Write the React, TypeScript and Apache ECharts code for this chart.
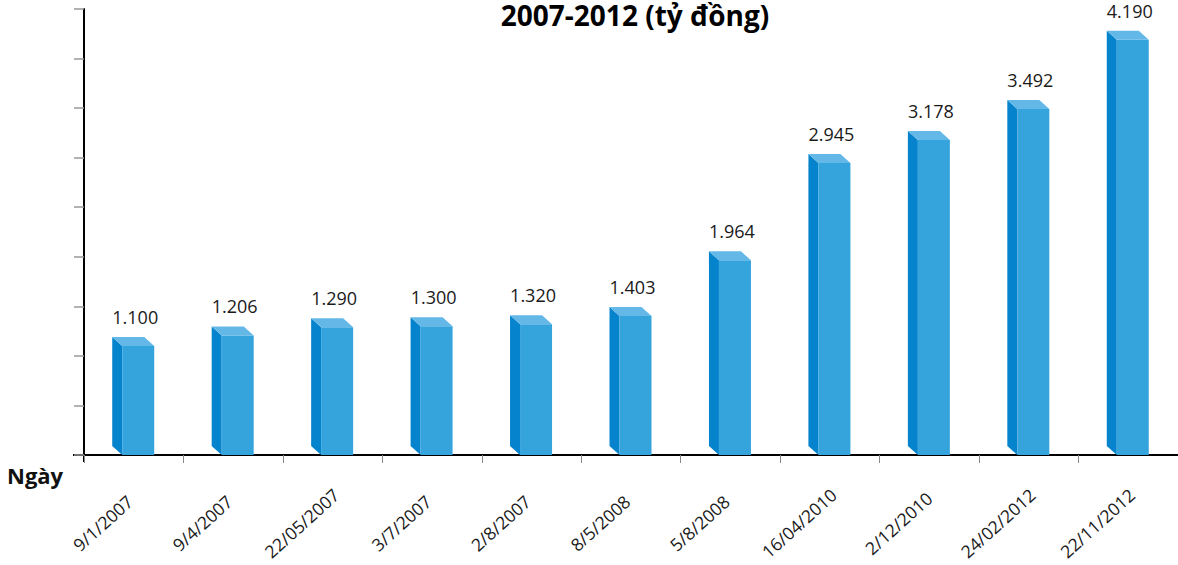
import React, { useEffect, useRef } from "react";
import * as echarts from "echarts";

const categories = [
  "9/1/2007", "9/4/2007", "22/05/2007", "3/7/2007", "2/8/2007", "8/5/2008",
  "5/8/2008", "16/04/2010", "2/12/2010", "24/02/2012", "22/11/2012",
];
const values = [1100, 1206, 1290, 1300, 1320, 1403, 1964, 2945, 3178, 3492, 4190];
const valueLabels = ["1.100", "1.206", "1.290", "1.300", "1.320", "1.403", "1.964", "2.945", "3.178", "3.492", "4.190"];
const titleText = "2007-2012 (tỷ đồng)";
const xAxisName = "Ngày";

const FONT = "'Open Sans', 'Noto Sans', sans-serif";

export default function App() {
  const ref = useRef<HTMLDivElement>(null);
  useEffect(() => {
    const chart = echarts.init(ref.current!, null, { renderer: "svg" });
    chart.setOption({
      animation: false,
      backgroundColor: "#ffffff",
      grid: { left: 84, right: 0, top: 9, bottom: 110, containLabel: false },
      graphic: [
        {
          type: "text",
          x: 635,
          y: 1,
          style: {
            text: titleText,
            font: `bold 28px ${FONT}`,
            fill: "#000",
            align: "center",
            verticalAlign: "top",
          },
          z: 10,
        },
        {
          type: "text",
          left: 7,
          top: 464,
          style: { text: xAxisName, font: `bold 22px ${FONT}`, fill: "#111" },
        },
        {
          type: "line",
          shape: { x1: 73, y1: 455, x2: 85, y2: 455 },
          style: { stroke: "#000", lineWidth: 2 },
        },
        {
          type: "line",
          shape: { x1: 84, y1: 454, x2: 84, y2: 462 },
          style: { stroke: "#000", lineWidth: 2 },
        },
      ],
      xAxis: {
        type: "category",
        data: categories,
        axisLine: { lineStyle: { color: "#000", width: 2 } },
        axisTick: { show: true, alignWithLabel: false, length: 8, lineStyle: { color: "#888", width: 1 } },
        axisLabel: { show: false },
      },
      yAxis: {
        type: "value",
        min: 0,
        max: 4500,
        interval: 500,
        axisLine: { show: true, lineStyle: { color: "#000", width: 2 } },
        axisTick: { show: true, length: 10, lineStyle: { color: "#999", width: 1.5 } },
        axisLabel: { show: false },
        splitLine: { show: false },
      },
      series: [
        {
          type: "custom",
          data: values.map((v, i) => [i, v]),
          clip: false,
          renderItem: (params: any, api: any) => {
            const idx = api.value(0);
            const val = api.value(1);
            const top = api.coord([idx, val]);
            const base = api.coord([idx, 0]);
            const cx = top[0];
            const ty = top[1];
            const by = base[1];
            const dx = 10;
            const dy = 9;
            const fl = cx - 11.5;
            const fw = 32;
            return {
              type: "group",
              children: [
                {
                  type: "polygon",
                  shape: {
                    points: [
                      [fl - dx, ty - dy],
                      [fl, ty],
                      [fl, by],
                      [fl - dx, by - dy],
                    ],
                  },
                  style: { fill: "#0683cd" },
                },
                {
                  type: "rect",
                  shape: { x: fl, y: ty, width: fw, height: by - ty },
                  style: { fill: "#35a3dc" },
                },
                {
                  type: "polygon",
                  shape: {
                    points: [
                      [fl - dx, ty - dy],
                      [fl - dx + fw, ty - dy],
                      [fl + fw, ty],
                      [fl, ty],
                    ],
                  },
                  style: { fill: "#63b8e8" },
                },
                {
                  type: "text",
                  x: cx + 1.5,
                  y: ty - dy - 20,
                  style: {
                    text: valueLabels[idx],
                    font: `18px ${FONT}`,
                    fill: "#1a1a1a",
                    align: "center",
                    verticalAlign: "middle",
                  },
                },
                {
                  type: "text",
                  x: cx - 31,
                  y: base[1] + 68,
                  rotation: (42 * Math.PI) / 180,
                  style: {
                    text: categories[idx],
                    font: `17.5px ${FONT}`,
                    fill: "#1a1a1a",
                    align: "center",
                    verticalAlign: "middle",
                  },
                },
              ],
            };
          },
        },
      ],
    });
    return () => chart.dispose();
  }, []);
  return <div ref={ref} style={{ width: 1178, height: 565, position: "absolute", left: 0, top: 0 }} />;
}
